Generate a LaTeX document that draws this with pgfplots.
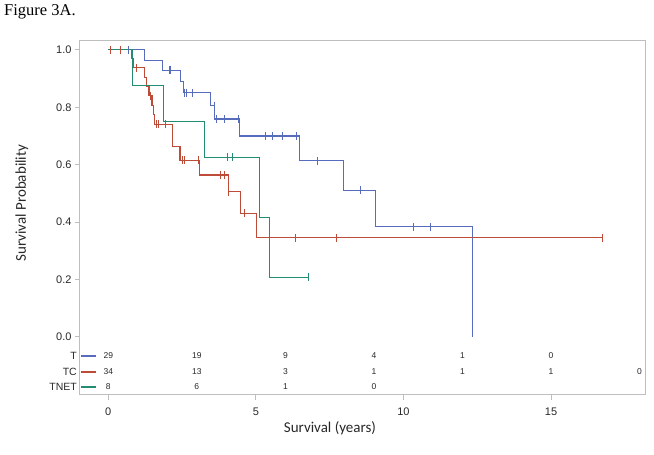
\documentclass[border=0pt]{standalone}
\usepackage{pgfplots}
\pgfplotsset{compat=1.18}
\usepackage{fontspec}
\setmainfont{Liberation Sans}
\newfontfamily\carlito{Carlito}
\newfontfamily\timesf{Liberation Serif}
\definecolor{kmblue}{RGB}{88,108,190}
\definecolor{kmred}{RGB}{190,75,55}
\definecolor{kmgreen}{RGB}{35,140,115}
\definecolor{framegray}{RGB}{190,190,190}
\definecolor{txtgray}{RGB}{40,40,40}

\pgfplotstableread{
x y
0 1
1.24 0.964
1.84 0.929
2.46 0.890
2.54 0.851
3.47 0.806
3.61 0.759
4.44 0.700
6.47 0.613
7.96 0.511
9.05 0.383
12.34 0
}\bluecurve
\pgfplotstableread{
x y
0.68 1
2.07 0.929
2.12 0.929
2.57 0.851
2.65 0.851
2.86 0.851
3.58 0.806
3.67 0.759
3.92 0.759
4.40 0.759
5.33 0.700
5.56 0.700
5.90 0.700
6.38 0.700
7.09 0.613
8.55 0.511
10.33 0.383
10.90 0.383
}\bluecens
\pgfplotstableread{
x y
0 1
0.78 0.969
0.85 0.938
1.24 0.905
1.30 0.873
1.38 0.841
1.48 0.807
1.52 0.774
1.58 0.740
2.18 0.662
2.43 0.615
3.08 0.564
4.06 0.506
4.48 0.430
5.02 0.345
16.74 0.345
}\redcurve
\pgfplotstableread{
x y
0.08 1
0.42 1
0.96 0.938
1.41 0.841
1.64 0.740
1.69 0.740
1.92 0.740
2.51 0.615
2.57 0.615
3.06 0.615
3.80 0.564
3.95 0.564
4.06 0.506
4.60 0.430
5.45 0.345
6.34 0.345
7.73 0.345
16.74 0.345
}\redcens
\pgfplotstableread{
x y
0 1
0.82 0.875
1.86 0.750
3.25 0.625
5.11 0.417
5.45 0.208
6.77 0.208
}\greencurve
\pgfplotstableread{
x y
4.03 0.625
4.21 0.625
6.77 0.208
}\greencens
\pgfplotstableread{
x y n
0 -0.067 29
3 -0.067 19
6 -0.067 9
9 -0.067 4
12 -0.067 1
15 -0.067 0
0 -0.123 34
3 -0.123 13
6 -0.123 3
9 -0.123 1
12 -0.123 1
15 -0.123 1
18 -0.123 0
0 -0.175 8
3 -0.175 6
6 -0.175 1
9 -0.175 0
}\atrisk

\begin{document}
\begin{tikzpicture}
\useasboundingbox (0,0) rectangle (654pt,455pt);
\node[anchor=base west, inner sep=0, font=\timesf\fontsize{16.5}{19}\selectfont] at (4pt,439pt) {Figure 3A.};
\begin{axis}[
  at={(80pt,60pt)}, anchor=south west,
  width=565.5pt, height=354pt, scale only axis,
  xmin=-0.959, xmax=18.2, ymin=-0.203, ymax=1.031,
  clip=false,
  xtick={0,5,10,15},
  ytick={0,0.2,0.4,0.6,0.8,1},
  xtick pos=bottom, ytick pos=left,
  tick align=outside,
  major tick length=5pt,
  tick style={framegray, line width=0.8pt},
  axis line style={framegray, line width=1pt},
  /pgf/number format/assume math mode=true,
  yticklabel style={/pgf/number format/.cd, fixed, fixed zerofill, precision=1},
  xticklabel style={yshift=-4pt},
  tick label style={font=\fontsize{11}{13}\selectfont, text=txtgray},
  ylabel={Survival Probability},
  ylabel style={at={(axis description cs:-0.1026,0.542)}, anchor=center, font=\carlito\fontsize{15}{18}\selectfont, text=txtgray},
  xlabel={Survival (years)},
  xlabel style={at={(axis description cs:0.442,-0.1073)}, anchor=base, font=\carlito\fontsize{15}{18}\selectfont, text=txtgray},
]
\addplot[const plot, kmblue, line width=1.1pt, mark=none] table {\bluecurve};
\addplot[const plot, kmred, line width=1.1pt, mark=none] table {\redcurve};
\addplot[const plot, kmgreen, line width=1.1pt, mark=none] table {\greencurve};
\addplot[only marks, mark=|, mark size=4pt, mark options={kmblue, line width=0.8pt}] table {\bluecens};
\addplot[only marks, mark=|, mark size=4pt, mark options={kmred, line width=0.8pt}] table {\redcens};
\addplot[only marks, mark=|, mark size=4pt, mark options={kmgreen, line width=0.8pt}] table {\greencens};
% at-risk legend lines
\addplot[kmblue, line width=1.1pt, mark=none] coordinates {(-0.925,-0.067) (-0.417,-0.067)};
\addplot[kmred, line width=1.1pt, mark=none] coordinates {(-0.925,-0.123) (-0.417,-0.123)};
\addplot[kmgreen, line width=1.1pt, mark=none] coordinates {(-0.925,-0.175) (-0.417,-0.175)};
% at-risk numbers
\addplot[draw=none, mark=none, nodes near coords, point meta=explicit symbolic,
  nodes near coords align={center},
  nodes near coords style={anchor=center, font=\fontsize{8.5}{10}\selectfont, text=txtgray}]
  table[meta=n] {\atrisk};
\node[anchor=east, inner sep=0, xshift=-3pt, font=\fontsize{10.5}{12}\selectfont, text=txtgray] at (axis cs:-0.959,-0.067) {T};
\node[anchor=east, inner sep=0, xshift=-3pt, font=\fontsize{10.5}{12}\selectfont, text=txtgray] at (axis cs:-0.959,-0.123) {TC};
\node[anchor=east, inner sep=0, xshift=-3pt, font=\fontsize{10.5}{12}\selectfont, text=txtgray] at (axis cs:-0.959,-0.175) {TNET};
\end{axis}
\end{tikzpicture}
\end{document}
